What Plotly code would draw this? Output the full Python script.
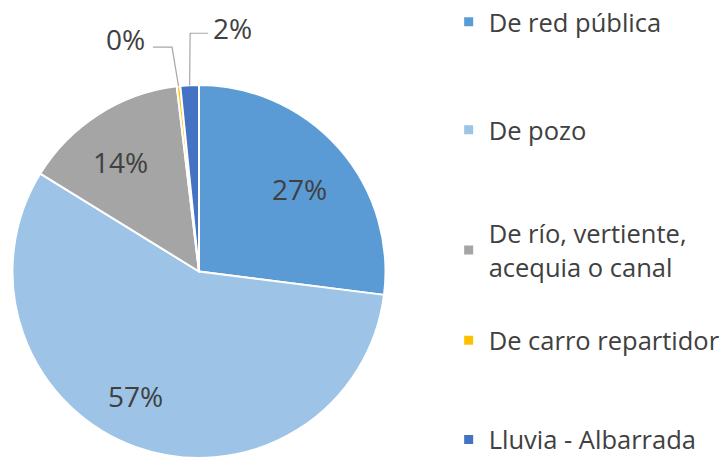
import math
import plotly.graph_objects as go

categories = ["De red pública", "De pozo", "De río, vertiente,<br>acequia o canal",
              "De carro repartidor", "Lluvia - Albarrada"]
values = [27.0, 56.8, 14.3, 0.3, 1.6]
colors = ["#5B9BD5", "#9DC3E6", "#A5A5A5", "#FFC000", "#4472C4"]

# label placement style: inside labels at a radial fraction along the slice's mid-angle
inside_label = {0: (0.70, 2.0), 1: (0.75, 7.5), 2: (0.72, -3.0)}  # (radius fraction, angle nudge deg)
# outside labels: pixel offsets from the rim point (elbow, line end, label centre)
outside_layout = {
    3: ((-6.5, -39), (-25.5, -39), (-53.5, -47)),
    4: ((0.5, -52), (18.5, -52), (42.5, -57)),
}

FONT = "Open Sans"
TXT = "#404040"
W, H = 726, 458
dom_x = [12 / W, 386 / W]
dom_y = [0, 373 / H]

fig = go.Figure()
fig.add_trace(go.Pie(
    labels=categories, values=values, sort=False, direction="clockwise", rotation=0,
    marker=dict(colors=colors, line=dict(color="white", width=2)),
    textposition="none",
    domain=dict(x=dom_x, y=dom_y),
    showlegend=False, hoverinfo="label+percent",
))

total = sum(values)
cx = (dom_x[0] + dom_x[1]) / 2 * W
cy = (1 - (dom_y[0] + dom_y[1]) / 2) * H
r = min((dom_x[1] - dom_x[0]) * W, (dom_y[1] - dom_y[0]) * H) / 2


def to_paper(px, py):
    return px / W, 1 - py / H


cum = 0.0
for i, v in enumerate(values):
    mid = (cum + v / 2) / total * 2 * math.pi
    cum += v
    label = f"{round(v / total * 100)}%"
    if i in inside_label:
        frac, nudge = inside_label[i]
        a = mid + math.radians(nudge)
        tx, ty = to_paper(cx + frac * r * math.sin(a), cy - frac * r * math.cos(a))
        fig.add_annotation(x=tx, y=ty, xref="paper", yref="paper",
                           xanchor="center", yanchor="middle", text=label, showarrow=False,
                           font=dict(family=FONT, size=28, color=TXT))
    elif i in outside_layout:
        px = cx + r * math.sin(mid)
        py = cy - r * math.cos(mid)
        elbow, end, lab = outside_layout[i]
        pts = [(px, py), (px + elbow[0], py + elbow[1]), (px + end[0], py + end[1])]
        path = "M " + " L ".join("%.5f,%.5f" % to_paper(a, b) for a, b in pts)
        fig.add_shape(type="path", path=path, xref="paper", yref="paper",
                      line=dict(color="#A6A6A6", width=1.2))
        tx, ty = to_paper(px + lab[0], py + lab[1])
        fig.add_annotation(x=tx, y=ty, xref="paper", yref="paper",
                           xanchor="center", yanchor="middle", text=label, showarrow=False,
                           font=dict(family=FONT, size=28, color=TXT))

legend_y = [0.9515, 0.7157, 0.4532, 0.2559, 0.0396]
layout_legends = {}
for i, (cat, col) in enumerate(zip(categories, colors)):
    name = "legend" if i == 0 else f"legend{i+1}"
    fig.add_trace(go.Scatter(
        x=[None], y=[None], mode="markers", name=cat,
        marker=dict(symbol="square", size=9, color=col),
        legend=name, showlegend=True,
    ))
    layout_legends[name] = dict(
        x=0.618, y=legend_y[i], xanchor="left", yanchor="middle",
        font=dict(family=FONT, size=25.5, color=TXT),
        bgcolor="rgba(0,0,0,0)", itemwidth=30,
    )

fig.update_layout(
    width=W, height=H, margin=dict(l=0, r=0, t=0, b=0, autoexpand=False),
    paper_bgcolor="white", plot_bgcolor="white",
    xaxis=dict(visible=False), yaxis=dict(visible=False),
    **layout_legends,
)
fig.write_html("out.html", config={"displayModeBar": False},
               post_script="document.body.style.margin='0';")
